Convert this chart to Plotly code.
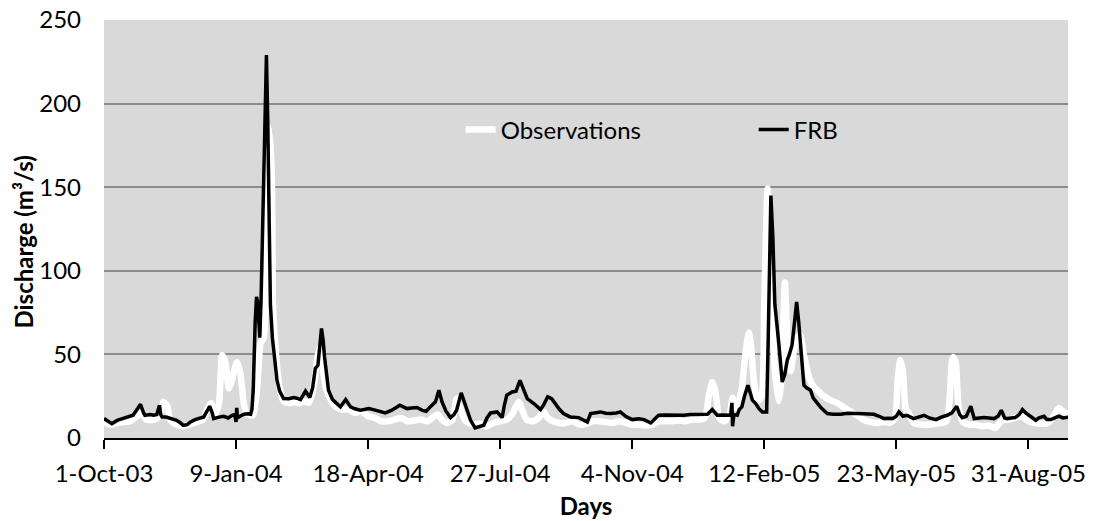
import pandas as pd
import plotly.graph_objects as go

START = pd.Timestamp("2003-10-01")

# Observed discharge (m3/s), keyed by days since 1 Oct 2003
obs_day = [0, 5, 10, 15, 20, 25, 28, 32, 38, 42, 45, 48, 50, 55, 60, 65, 70, 75, 78, 81,
           84, 87, 89.5, 92, 94.5, 97, 100.7, 103, 106, 108, 111, 113, 116, 118.5, 121, 123,
           125, 127, 128, 130, 133, 136, 140, 144, 148, 152, 155, 158, 160, 162, 164, 166,
           168, 171, 175, 180, 185, 190, 195, 200, 205, 210, 215, 220, 225, 230, 235, 240,
           245, 250, 253, 256, 260, 264, 267, 270, 274, 280, 285, 290, 295, 300, 305, 309,
           312, 314, 317, 320, 325, 329, 333, 336, 340, 345, 350, 355, 360, 365, 370, 375,
           380, 385, 390, 395, 400, 405, 410, 415, 420, 425, 430, 435, 440, 445, 450, 455,
           458, 460.6, 463, 466, 470, 474, 476, 478, 480, 483, 486, 488.4, 490, 492, 495,
           498, 500, 502.5, 504, 506, 508, 511, 513, 515.6, 518, 520, 523, 527, 530, 534,
           537.6, 541, 545, 550, 555, 560, 565, 570, 575, 580, 585, 590, 595, 599, 601, 603,
           605, 607, 609.6, 613, 620, 630, 638, 640, 642, 643, 645, 647, 650, 655, 660, 665,
           670, 675, 680, 685, 690, 695, 700, 705, 710, 715, 720, 723, 726, 730]
obs_q = [9.5, 8, 9, 9.5, 10, 13, 15, 11, 11, 13, 21.6, 19, 11, 8, 7, 8, 9.5, 11, 17, 21,
         14, 20, 49.5, 45, 29.6, 35, 45.5, 40, 20, 14.6, 13.6, 13.6, 30, 56.5, 60, 100,
         186, 160, 80, 52, 30, 22, 21, 21.5, 21, 22, 21, 28, 38, 50, 55, 40,
         30, 24, 19, 17, 17, 15, 16, 13, 12, 10, 10, 11, 12, 10, 10.5, 11,
         10, 13, 14, 11, 9, 11, 23.6, 17, 10, 8, 8.5, 7, 9, 10, 11, 14,
         19, 21.6, 16, 11, 10, 12, 15.6, 12, 10, 9, 9, 10, 8, 8.5, 10, 10,
         9.5, 9, 10, 9, 8, 8, 7.5, 8, 10, 10, 10, 10.5, 10, 11, 11, 12,
         25, 33.5, 28, 12, 10, 15, 24, 18, 20, 30, 52, 63, 55, 35, 22,
         25, 80, 149, 130, 80, 40, 22, 35, 93, 50, 40, 55, 62, 50, 36,
         30.5, 28, 25, 22.6, 21, 18.6, 16, 13.6, 11, 9.6, 9, 9.6, 9, 12, 35, 46.5,
         40, 18, 14.6, 9, 8, 8.5, 10, 20, 45, 48.5, 45, 20, 10, 8, 8, 7,
         7.5, 6, 10.6, 11, 12, 13, 10, 9, 8.5, 9, 14, 18, 16, 14]

# FRB simulated discharge (m3/s), keyed by days since 1 Oct 2003
frb_day = [0, 3, 6, 10, 15, 19, 22, 25, 27.6, 30, 31, 35, 37.7, 40, 42, 43, 44, 47, 50, 55,
           58, 60, 63, 65.5, 69, 72, 75.5, 78, 80, 82, 83, 87, 90.7, 94, 97, 99, 100, 100.5,
           101, 103, 106, 109, 111, 112, 113, 114.5, 115.5, 116.5, 117.5, 118, 119, 121, 123,
           124, 125, 126, 127.5, 128.6, 131, 133, 136, 140, 143.7, 146, 148.8, 152.6, 155.8,
           158, 160, 162, 163.5, 164.7, 166, 167, 170, 173, 175, 179, 183, 186.7, 190, 194,
           197, 200.5, 204, 208, 213, 218, 221, 224, 227, 229.5, 233, 237, 241, 244, 247,
           251, 253.6, 256, 259, 262.4, 265, 267, 270.5, 273.8, 277.6, 281, 284, 287.6, 290,
           292.7, 297.7, 301.5, 303, 305, 309, 312, 315, 318, 320.5, 325.5, 330.6, 333, 336,
           339, 342, 345, 348, 353, 359.6, 363, 366, 368.5, 372, 376, 380, 383.6, 388, 391,
           395, 400, 405, 409, 414, 417, 420, 425, 429, 434, 439, 444, 449, 453, 457, 460.6,
           464.4, 468, 472, 474.5, 475.5, 476, 477, 479.5, 481, 483, 485, 487.6, 489, 491,
           493.5, 496, 498.5, 501.8, 503, 505, 506.5, 508, 511, 513.6, 515.5, 517.4, 519,
           521, 523, 524.5, 526, 527.6, 530, 532, 535, 537, 540, 543, 547.7, 552, 557.9, 563,
           570.5, 576, 583, 587, 590.7, 594, 597, 600, 602, 605, 608, 613, 617, 621, 625,
           630, 634, 638.6, 642, 645.7, 648, 650, 653, 656.4, 659, 662, 666.4, 670, 674, 677,
           679.5, 682, 684, 687, 690, 693, 695.5, 698, 700.5, 703, 705.6, 708, 711.9, 714,
           717, 720, 723, 726, 729.5, 730]
frb_q = [11.6, 10, 8.6, 10.5, 11.6, 12.5, 13.6, 17, 20.2, 15, 13.6, 14, 13.6, 14, 19.6, 14,
         12.6, 12.5, 11.6, 10.6, 9, 7.6, 8, 9.6, 11, 11.6, 12.6, 16, 19, 15, 11.6, 12.5, 13,
         12, 13.6, 14, 9.6, 18, 12, 13, 14.2, 14.5, 14.2, 17, 28.6, 70, 84.4, 80, 62, 60, 85,
         170, 229, 190, 120, 80, 60, 50.5, 34.5, 28, 23.6, 23.5, 24.2, 23.8, 23, 28.1, 24.2,
         30, 41.6, 43.5, 55, 65.5, 58, 48.5, 28.6, 23, 21.6, 18.6, 23, 18.6, 17.5, 16.6,
         17, 17.6, 17, 16.2, 15, 16.6, 18, 19.6, 18.5, 17.6, 18, 18.2, 16.5, 16, 18.6,
         21.6, 28.6, 21.6, 16, 12.2, 14, 16.6, 27, 19.6, 10.6, 6, 6.5, 7.6, 12,
         15, 15.6, 12.2, 19, 25.6, 27.5, 28, 34.5, 28, 23.6, 20.6, 17, 20, 24.6,
         23.5, 20.2, 17, 14.6, 12.6, 12.2, 11, 9.6, 14.6, 15, 15.6, 14.8, 14.6, 15, 15.6,
         13, 11, 11.5, 11, 9, 11, 13.6, 13.8, 13.6, 13.8, 13.6, 14, 14.2, 14, 14.2, 17,
         13.6, 13.8, 13.5, 13.6, 21, 7, 14, 13.6, 17, 18.6, 25, 31.6, 28, 22.6,
         20.6, 17.5, 15.6, 15.6, 60, 145, 120, 80, 56.5, 33.5, 38, 46.5, 50,
         55.5, 70, 81.4, 70, 54.5, 31.6, 30, 28.6, 24, 20.6, 18, 14.6, 14.2, 14.2, 14.8,
         14.6, 14.4, 14.2, 13, 11.6, 11.8, 11.6, 13, 15.6, 13, 13.6, 11.6, 12.5, 13.6, 12,
         11, 12.5, 13.6, 15, 19, 14, 12.2, 13, 19, 11.6, 12, 12.2, 12, 11.6, 13,
         16.6, 12, 11.6, 12, 12.2, 14, 17, 15, 13.6, 12, 10.6, 12, 13, 11,
         11, 12, 13, 12, 12.2, 12.4]

# x-axis ticks every 100 days
tick_days = [0, 100, 200, 300, 400, 500, 600, 700]
y_ticks = [0, 50, 100, 150, 200, 250]


def to_dates(days):
    return START + pd.to_timedelta(days, unit="D")


FONT = "Lato"
SIZE = 24
tick_dates = to_dates(tick_days)

fig = go.Figure()
fig.add_trace(go.Scatter(
    x=to_dates(obs_day), y=obs_q, mode="lines", name="Observations",
    line=dict(color="white", width=6.5, shape="spline", smoothing=0.6),
))
fig.add_trace(go.Scatter(
    x=to_dates(frb_day), y=frb_q, mode="lines", name="FRB",
    line=dict(color="black", width=3.5),
))

fig.update_layout(
    width=1093, height=521,
    margin=dict(l=104, r=25, t=20, b=83),
    paper_bgcolor="white",
    plot_bgcolor="#d9d9d9",
    font=dict(family=FONT, size=SIZE, color="black"),
    legend=dict(
        orientation="h", x=0.37, y=0.737, xanchor="left", yanchor="middle",
        bgcolor="rgba(0,0,0,0)", font=dict(size=SIZE), entrywidth=248,
        traceorder="normal",
    ),
    xaxis=dict(
        range=[to_dates([0])[0], to_dates([730])[0]],
        tickmode="array", tickvals=tick_dates,
        ticktext=[d.strftime("%-d-%b-%y") for d in tick_dates],
        showgrid=False, showline=True, linecolor="black", linewidth=2,
        ticks="outside", ticklen=9, tickwidth=2, tickcolor="black",
        ticklabelstandoff=4, automargin=False,
        title=dict(text="<b>Days</b>", standoff=12, font=dict(size=SIZE)),
        zeroline=False,
    ),
    yaxis=dict(
        range=[0, 250], tickmode="array", tickvals=y_ticks,
        showgrid=True, gridcolor="#8c8c8c", gridwidth=1.5, automargin=False,
        showline=False, zeroline=False, ticks="", ticklabelstandoff=22,
    ),
    annotations=[dict(
        text="<b>Discharge (m³/s)</b>", textangle=-90,
        xref="paper", yref="paper", x=-0.083, y=0.47,
        xanchor="center", yanchor="middle", showarrow=False,
        font=dict(size=SIZE),
    )],
)

fig.write_html("out.html")
